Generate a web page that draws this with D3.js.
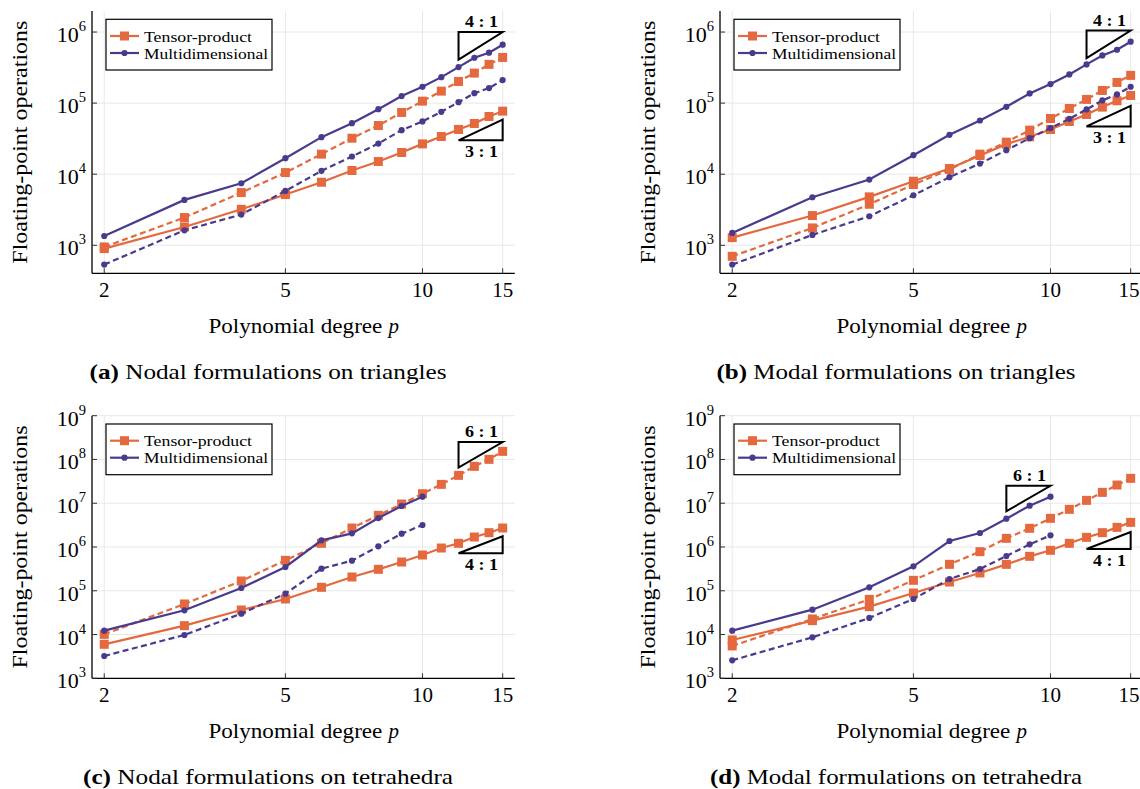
<!DOCTYPE html>
<html>
<head>
<meta charset="utf-8">
<title>Floating-point operations</title>
<script src="https://cdn.jsdelivr.net/npm/d3@7"></script>
<style>
  body { margin: 0; background: #fff; }
  svg text { font-family: "Liberation Serif", "DejaVu Serif", serif; fill: #000; }
</style>
</head>
<body>
<script>
// polynomial degrees on the x axis
var degrees = [2, 3, 4, 5, 6, 7, 8, 9, 10, 11, 12, 13, 14, 15];
var degreesShort = [2, 3, 4, 5, 6, 7, 8, 9, 10];
var xTicks = [2, 5, 10, 15];
var yTicksTri = [1e3, 1e4, 1e5, 1e6];
var yTicksTet = [1e3, 1e4, 1e5, 1e6, 1e7, 1e8, 1e9];

// (a) nodal, triangles
var nodalTriTensor     = [898, 1810, 3210, 5170, 7710, 11270, 15080, 20200, 26700, 33900, 42600, 51700, 64900, 77100];
var nodalTriTensorDash = [948, 2455, 5520, 10540, 19150, 32100, 48400, 73900, 106600, 147500, 201800, 264600, 351000, 439000];
var nodalTriMulti      = [1352, 4350, 7460, 16800, 33200, 52200, 82200, 125600, 170000, 232000, 321000, 435000, 512000, 664000];
var nodalTriMultiDash  = [535, 1625, 2705, 5820, 11140, 17740, 27000, 41700, 55200, 75500, 103000, 138000, 162700, 210900];

// (b) modal, triangles
var modalTriTensor     = [1282, 2620, 4800, 7960, 12020, 18330, 26500, 33600, 42600, 55200, 69200, 87900, 107900, 128200];
var modalTriTensorDash = [700, 1754, 3780, 7150, 11640, 19150, 28260, 41700, 60800, 84100, 112800, 150700, 195500, 245600];
var modalTriMulti      = [1493, 4740, 8410, 18530, 35800, 57000, 88700, 136800, 185300, 253400, 350700, 468700, 563500, 731000];
var modalTriMultiDash  = [535, 1400, 2560, 5060, 9080, 14130, 21770, 32100, 44500, 60100, 81500, 109200, 132500, 170000];

// (c) nodal, tetrahedra
var nodalTetTensor     = [5980, 15960, 36400, 64900, 119900, 206500, 309000, 454000, 656000, 948000, 1213000, 1691000, 2124000, 2716000];
var nodalTetTensorDash = [10100, 49900, 167200, 495700, 1213000, 2716000, 5290000, 9600000, 16530000, 27000000, 43350000, 69600000, 100700000, 153200000];
var nodalTetMulti      = [12270, 35740, 115700, 349000, 1419000, 2051000, 4592000, 8635000, 14120000];
var nodalTetMultiDash  = [3236, 9770, 30000, 85900, 320000, 487000, 1035000, 2017000, 3182000];

// (d) modal, tetrahedra
var modalTetTensor     = [7510, 20750, 43350, 88900, 158500, 254700, 401800, 612300, 839500, 1213000, 1663000, 2124000, 2812000, 3658000];
var modalTetTensorDash = [5480, 22650, 63700, 173300, 401800, 782000, 1578000, 2669000, 4518000, 7250000, 11640000, 17730000, 26070000, 37050000];
var modalTetMulti      = [12270, 37000, 119900, 361500, 1371000, 2088000, 4436000, 8790000, 14120000];
var modalTetMultiDash  = [2576, 8640, 23900, 64900, 185800, 314300, 622700, 1151000, 1846000];

// slope triangles: from p0 to p1, anchored at value, with given order
var slopesA = [{p0: 12, p1: 15, value: 1e6, order: 4, place: "above"}, {p0: 12, p1: 15, value: 3e4, order: 3, place: "below"}];
var slopesB = [{p0: 12, p1: 15, value: 1.05e6, order: 4, place: "above"}, {p0: 12, p1: 15, value: 4.7e4, order: 3, place: "below"}];
var slopesC = [{p0: 12, p1: 15, value: 2.5e8, order: 6, place: "above"}, {p0: 12, p1: 15, value: 7.2e5, order: 4, place: "below"}];
var slopesD = [{p0: 8, p1: 10, value: 2.5e7, order: 6, place: "above"}, {p0: 12, p1: 15, value: 9e5, order: 4, place: "below"}];

var orange = "#e4693f", purple = "#4a3a8e";
var serif = "'Liberation Serif', 'DejaVu Serif', serif";
var W = 1140, H = 789;

var svg = d3.select("body").append("svg")
    .attr("width", W)
    .attr("height", H);

var panels = [
  {tag: "(a)", caption: "Nodal formulations on triangles", capW: 357, left: 92, top: 11, bottom: 273.3,
   yDomain: [403.6, 1977000], yTicks: yTicksTri, slopes: slopesA,
   tensor: nodalTriTensor, tensorDash: nodalTriTensorDash, multi: nodalTriMulti, multiDash: nodalTriMultiDash, multiX: degrees},
  {tag: "(b)", caption: "Modal formulations on triangles", capW: 359, left: 720, top: 11, bottom: 273.3,
   yDomain: [403.6, 1977000], yTicks: yTicksTri, slopes: slopesB,
   tensor: modalTriTensor, tensorDash: modalTriTensorDash, multi: modalTriMulti, multiDash: modalTriMultiDash, multiX: degrees},
  {tag: "(c)", caption: "Nodal formulations on tetrahedra", capW: 370, left: 92, top: 415.7, bottom: 678.3,
   yDomain: [1e3, 1e9], yTicks: yTicksTet, slopes: slopesC,
   tensor: nodalTetTensor, tensorDash: nodalTetTensorDash, multi: nodalTetMulti, multiDash: nodalTetMultiDash, multiX: degreesShort},
  {tag: "(d)", caption: "Modal formulations on tetrahedra", capW: 372, left: 720, top: 415.7, bottom: 678.3,
   yDomain: [1e3, 1e9], yTicks: yTicksTet, slopes: slopesD,
   tensor: modalTetTensor, tensorDash: modalTetTensorDash, multi: modalTetMulti, multiDash: modalTetMultiDash, multiX: degreesShort}
];

// fit text to the width it has in the figure
function fit(sel, w) {
  sel.attr("textLength", w).attr("lengthAdjust", "spacingAndGlyphs");
}

panels.forEach(drawPanel);

function drawPanel(cfg) {
  var plotW = 422.8;
  var x = d3.scaleLog().domain([1.88, 15.95]).range([cfg.left, cfg.left + plotW]);
  var y = d3.scaleLog().domain(cfg.yDomain).range([cfg.bottom, cfg.top]);
  var g = svg.append("g").attr("font-family", serif);

  // grid
  g.selectAll(".gx").data(xTicks).enter().append("line")
    .attr("x1", function(d) { return x(d); }).attr("x2", function(d) { return x(d); })
    .attr("y1", cfg.top).attr("y2", cfg.bottom)
    .attr("stroke", "#e8e8e8").attr("stroke-width", 1);
  g.selectAll(".gy").data(cfg.yTicks).enter().append("line")
    .attr("x1", cfg.left).attr("x2", cfg.left + plotW)
    .attr("y1", function(d) { return y(d); }).attr("y2", function(d) { return y(d); })
    .attr("stroke", "#e8e8e8").attr("stroke-width", 1);

  // spines
  g.append("line").attr("x1", cfg.left).attr("x2", cfg.left).attr("y1", cfg.top).attr("y2", cfg.bottom)
    .attr("stroke", "#000").attr("stroke-width", 1.3);
  g.append("line").attr("x1", cfg.left).attr("x2", cfg.left + plotW).attr("y1", cfg.bottom).attr("y2", cfg.bottom)
    .attr("stroke", "#000").attr("stroke-width", 1.3);

  // tick marks
  g.selectAll(".ty").data(cfg.yTicks).enter().append("line")
    .attr("x1", cfg.left).attr("x2", cfg.left + 5)
    .attr("y1", function(d) { return y(d); }).attr("y2", function(d) { return y(d); })
    .attr("stroke", "#333").attr("stroke-width", 1);
  g.selectAll(".tx").data(xTicks).enter().append("line")
    .attr("x1", function(d) { return x(d); }).attr("x2", function(d) { return x(d); })
    .attr("y1", cfg.bottom).attr("y2", cfg.bottom - 5)
    .attr("stroke", "#333").attr("stroke-width", 1);

  // tick labels (kept inside the page at the right edge)
  g.selectAll(".lx").data(xTicks).enter().append("text")
    .attr("x", function(d) { return Math.min(x(d), W - 11); })
    .attr("y", cfg.bottom + 23.5)
    .attr("text-anchor", "middle")
    .attr("font-size", 21)
    .text(function(d) { return d; });
  var ly = g.selectAll(".ly").data(cfg.yTicks).enter().append("text")
    .attr("x", cfg.left - 6)
    .attr("y", function(d) { return y(d) + 10; })
    .attr("text-anchor", "end")
    .attr("font-size", 22);
  ly.append("tspan").text("10");
  ly.append("tspan").attr("dy", -11).attr("font-size", 14.5)
    .text(function(d) { return Math.round(Math.log10(d)); });

  // series
  var line = d3.line().x(function(d) { return x(d[0]); }).y(function(d) { return y(d[1]); });
  var series = [
    {xs: degrees, ys: cfg.tensor, color: orange, dash: null, mark: "square"},
    {xs: degrees, ys: cfg.tensorDash, color: orange, dash: "6,3.5", mark: "square"},
    {xs: cfg.multiX, ys: cfg.multi, color: purple, dash: null, mark: "circle"},
    {xs: cfg.multiX, ys: cfg.multiDash, color: purple, dash: "6,3.5", mark: "circle"}
  ];
  series.forEach(function(s) {
    var pts = s.xs.map(function(p, i) { return [p, s.ys[i]]; });
    g.append("path").datum(pts)
      .attr("d", line)
      .attr("fill", "none")
      .attr("stroke", s.color)
      .attr("stroke-width", 2.2)
      .attr("stroke-dasharray", s.dash);
    if (s.mark === "square") {
      g.selectAll(null).data(pts).enter().append("rect")
        .attr("x", function(d) { return x(d[0]) - 4.5; })
        .attr("y", function(d) { return y(d[1]) - 4.5; })
        .attr("width", 9).attr("height", 9)
        .attr("fill", s.color);
    } else {
      g.selectAll(null).data(pts).enter().append("circle")
        .attr("cx", function(d) { return x(d[0]); })
        .attr("cy", function(d) { return y(d[1]); })
        .attr("r", 3.1)
        .attr("fill", s.color);
    }
  });

  // slope triangles
  cfg.slopes.forEach(function(t) {
    var rise = Math.pow(t.p1 / t.p0, t.order);
    var pts;
    if (t.place === "above") {
      pts = [[t.p0, t.value / rise], [t.p0, t.value], [t.p1, t.value]];
    } else {
      pts = [[t.p0, t.value], [t.p1, t.value], [t.p1, t.value * rise]];
    }
    g.append("path")
      .attr("d", line(pts) + "Z")
      .attr("fill", "none")
      .attr("stroke", "#000")
      .attr("stroke-width", 2)
      .attr("stroke-linejoin", "miter");
    var cx = (x(t.p0) + x(t.p1)) / 2;
    var ty = t.place === "above" ? y(t.value) - 5 : y(t.value) + 17;
    g.append("text")
      .attr("x", cx + 1).attr("y", ty)
      .attr("text-anchor", "middle")
      .attr("font-size", 17)
      .attr("font-weight", "bold")
      .text(t.order + " : 1")
      .call(fit, 33);
  });

  // legend
  var lx = cfg.left + 14, lt = cfg.top + 8.3;
  g.append("rect")
    .attr("x", lx).attr("y", lt).attr("width", 166).attr("height", 50.7)
    .attr("fill", "#fff").attr("stroke", "#000").attr("stroke-width", 1.2);
  var entries = [
    {label: "Tensor-product", color: orange, mark: "square", w: 108},
    {label: "Multidimensional", color: purple, mark: "circle", w: 124}
  ];
  entries.forEach(function(e, i) {
    var ry = lt + 16.7 + i * 17;
    g.append("line")
      .attr("x1", lx + 4).attr("x2", lx + 33).attr("y1", ry).attr("y2", ry)
      .attr("stroke", e.color).attr("stroke-width", 2.2);
    if (e.mark === "square") {
      g.append("rect").attr("x", lx + 18.5 - 4.5).attr("y", ry - 4.5)
        .attr("width", 9).attr("height", 9).attr("fill", e.color);
    } else {
      g.append("circle").attr("cx", lx + 18.5).attr("cy", ry).attr("r", 3.1).attr("fill", e.color);
    }
    g.append("text")
      .attr("x", lx + 38).attr("y", ry + 5.5)
      .attr("font-size", 14.5)
      .text(e.label)
      .call(fit, e.w);
  });

  // axis labels
  g.append("text")
    .attr("transform", "translate(" + (cfg.left - 65) + "," + ((cfg.top + cfg.bottom) / 2) + ") rotate(-90)")
    .attr("text-anchor", "middle")
    .attr("font-size", 21)
    .text("Floating-point operations")
    .call(fit, 243);
  var x0 = cfg.left + plotW / 2 - 95;
  g.append("text")
    .attr("x", x0)
    .attr("y", cfg.bottom + 60)
    .attr("font-size", 21)
    .text("Polynomial degree")
    .call(fit, 174);
  g.append("text")
    .attr("x", x0 + 180)
    .attr("y", cfg.bottom + 60)
    .attr("font-size", 21)
    .attr("font-style", "italic")
    .text("p");

  // caption
  var cap = g.append("text")
    .attr("x", cfg.left + 176)
    .attr("y", cfg.bottom + 106)
    .attr("text-anchor", "middle")
    .attr("font-size", 21);
  cap.append("tspan").attr("font-weight", "bold").text(cfg.tag);
  cap.append("tspan").text(" " + cfg.caption);
  fit(cap, cfg.capW);
}
</script>
</body>
</html>
